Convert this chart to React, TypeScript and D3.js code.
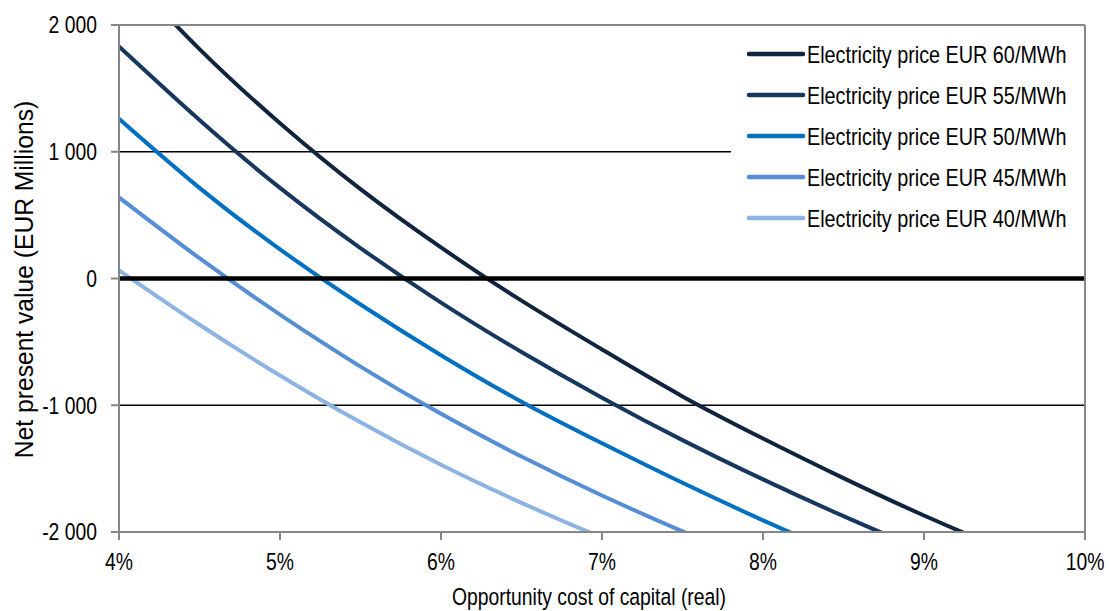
import React from "react";
import * as d3 from "d3";

const rates = [4, 4.5, 5, 5.5, 6, 6.5, 7, 7.5, 8, 8.5, 9, 9.5, 10];
const npv60 = [2470, 1810, 1225, 705, 245, -175, -560, -930, -1262, -1575, -1870, -2140, -2395];
const npv55 = [1830, 1250, 715, 240, -190, -580, -940, -1275, -1585, -1875, -2147, -2405, -2650];
const npv50 = [1260, 715, 230, -205, -605, -972, -1300, -1612, -1908, -2190, -2460, -2720, -2970];
const npv45 = [640, 160, -285, -695, -1068, -1405, -1712, -1995, -2262, -2515, -2755, -2985, -3205];
const npv40 = [65, -365, -765, -1135, -1470, -1770, -2045, -2305, -2552, -2787, -3010, -3222, -3425];

const seriesNames = [
  "Electricity price EUR 60/MWh",
  "Electricity price EUR 55/MWh",
  "Electricity price EUR 50/MWh",
  "Electricity price EUR 45/MWh",
  "Electricity price EUR 40/MWh",
];
const seriesValues = [npv60, npv55, npv50, npv45, npv40];
const seriesColors = ["#0f243e", "#17375e", "#0070c0", "#558ed5", "#8db3e2"];

const yTicks = [-2000, -1000, 0, 1000, 2000];
const xTicks = [4, 5, 6, 7, 8, 9, 10];

const FONT = "'Liberation Sans', Arial, sans-serif";

function T(props: {
  x: number;
  y: number;
  size: number;
  sx: number;
  anchor?: string;
  rotate?: boolean;
  children: React.ReactNode;
}) {
  const { x, y, size, sx, anchor = "start", rotate = false, children } = props;
  return (
    <text
      transform={`translate(${x},${y})${rotate ? " rotate(-90)" : ""} scale(${sx},1)`}
      textAnchor={anchor}
      fontSize={size}
      fill="#000"
    >
      {children}
    </text>
  );
}

export default function App() {
  const W = 1109, H = 611;
  const left = 119, right = 1085, top = 25, bottom = 532;
  const x = d3.scaleLinear().domain([4, 10]).range([left, right]);
  const y = d3.scaleLinear().domain([-2000, 2000]).range([bottom, top]);
  const line = d3
    .line<number>()
    .x((_, i) => x(rates[i]))
    .y((d) => y(d))
    .curve(d3.curveNatural);
  const fmt = (v: number) => {
    const s = Math.abs(v).toString();
    const body = s.length > 3 ? s.slice(0, s.length - 3) + " " + s.slice(-3) : s;
    return (v < 0 ? "-" : "") + body;
  };
  const axisGray = "#878787";
  const FS = 23.3;
  const SX = 0.83;
  return (
    <svg width={W} height={H} style={{ position: "absolute", left: 0, top: 0, background: "#fff" }} fontFamily={FONT}>
      <defs>
        <clipPath id="plot">
          <rect x={left} y={top} width={right - left} height={bottom - top} />
        </clipPath>
      </defs>
      {/* gridlines */}
      {[1000, -1000].map((v) => (
        <line key={v} x1={left} x2={right} y1={y(v)} y2={y(v)} stroke="#000" strokeWidth={1.5} />
      ))}
      {/* series */}
      <g clipPath="url(#plot)">
        {seriesValues.map((vals, i) => (
          <path key={i} d={line(vals) || ""} fill="none" stroke={seriesColors[i]} strokeWidth={4} />
        ))}
      </g>
      {/* zero line */}
      <line x1={left} x2={right} y1={y(0)} y2={y(0)} stroke="#000" strokeWidth={4.5} />
      {/* legend box */}
      <rect x={731} y={top} width={right - 731} height={213} fill="#fff" />
      {seriesNames.map((name, i) => {
        const ly = 54 + i * 41;
        return (
          <g key={name}>
            <line x1={749} x2={803} y1={ly} y2={ly} stroke={seriesColors[i]} strokeWidth={4.5} strokeLinecap="round" />
            <T x={807} y={ly + 8.5} size={FS} sx={0.85}>
              {name}
            </T>
          </g>
        );
      })}
      {/* frame */}
      <line x1={left} x2={right} y1={top} y2={top} stroke={axisGray} strokeWidth={2} />
      <line x1={right} x2={right} y1={top} y2={bottom} stroke={axisGray} strokeWidth={2} />
      <line x1={left} x2={left} y1={top} y2={bottom} stroke={axisGray} strokeWidth={2} />
      <line x1={left - 1} x2={right + 1} y1={bottom} y2={bottom} stroke={axisGray} strokeWidth={2} />
      {/* y ticks */}
      {yTicks.map((v) => (
        <g key={v}>
          <line x1={left - 8} x2={left} y1={y(v)} y2={y(v)} stroke={axisGray} strokeWidth={2} />
          <T x={97} y={y(v) + 8.3} size={FS} sx={SX} anchor="end">
            {fmt(v)}
          </T>
        </g>
      ))}
      {/* x ticks */}
      {xTicks.map((v) => (
        <g key={v}>
          <line x1={x(v)} x2={x(v)} y1={bottom} y2={bottom + 8} stroke={axisGray} strokeWidth={2} />
          <T x={x(v)} y={570} size={FS} sx={SX} anchor="middle">
            {v + "%"}
          </T>
        </g>
      ))}
      <T x={589} y={605} size={FS} sx={SX} anchor="middle">
        Opportunity cost of capital (real)
      </T>
      <T x={33} y={(top + bottom) / 2 + 1} size={26.5} sx={0.93} anchor="middle" rotate>
        Net present value (EUR Millions)
      </T>
    </svg>
  );
}
